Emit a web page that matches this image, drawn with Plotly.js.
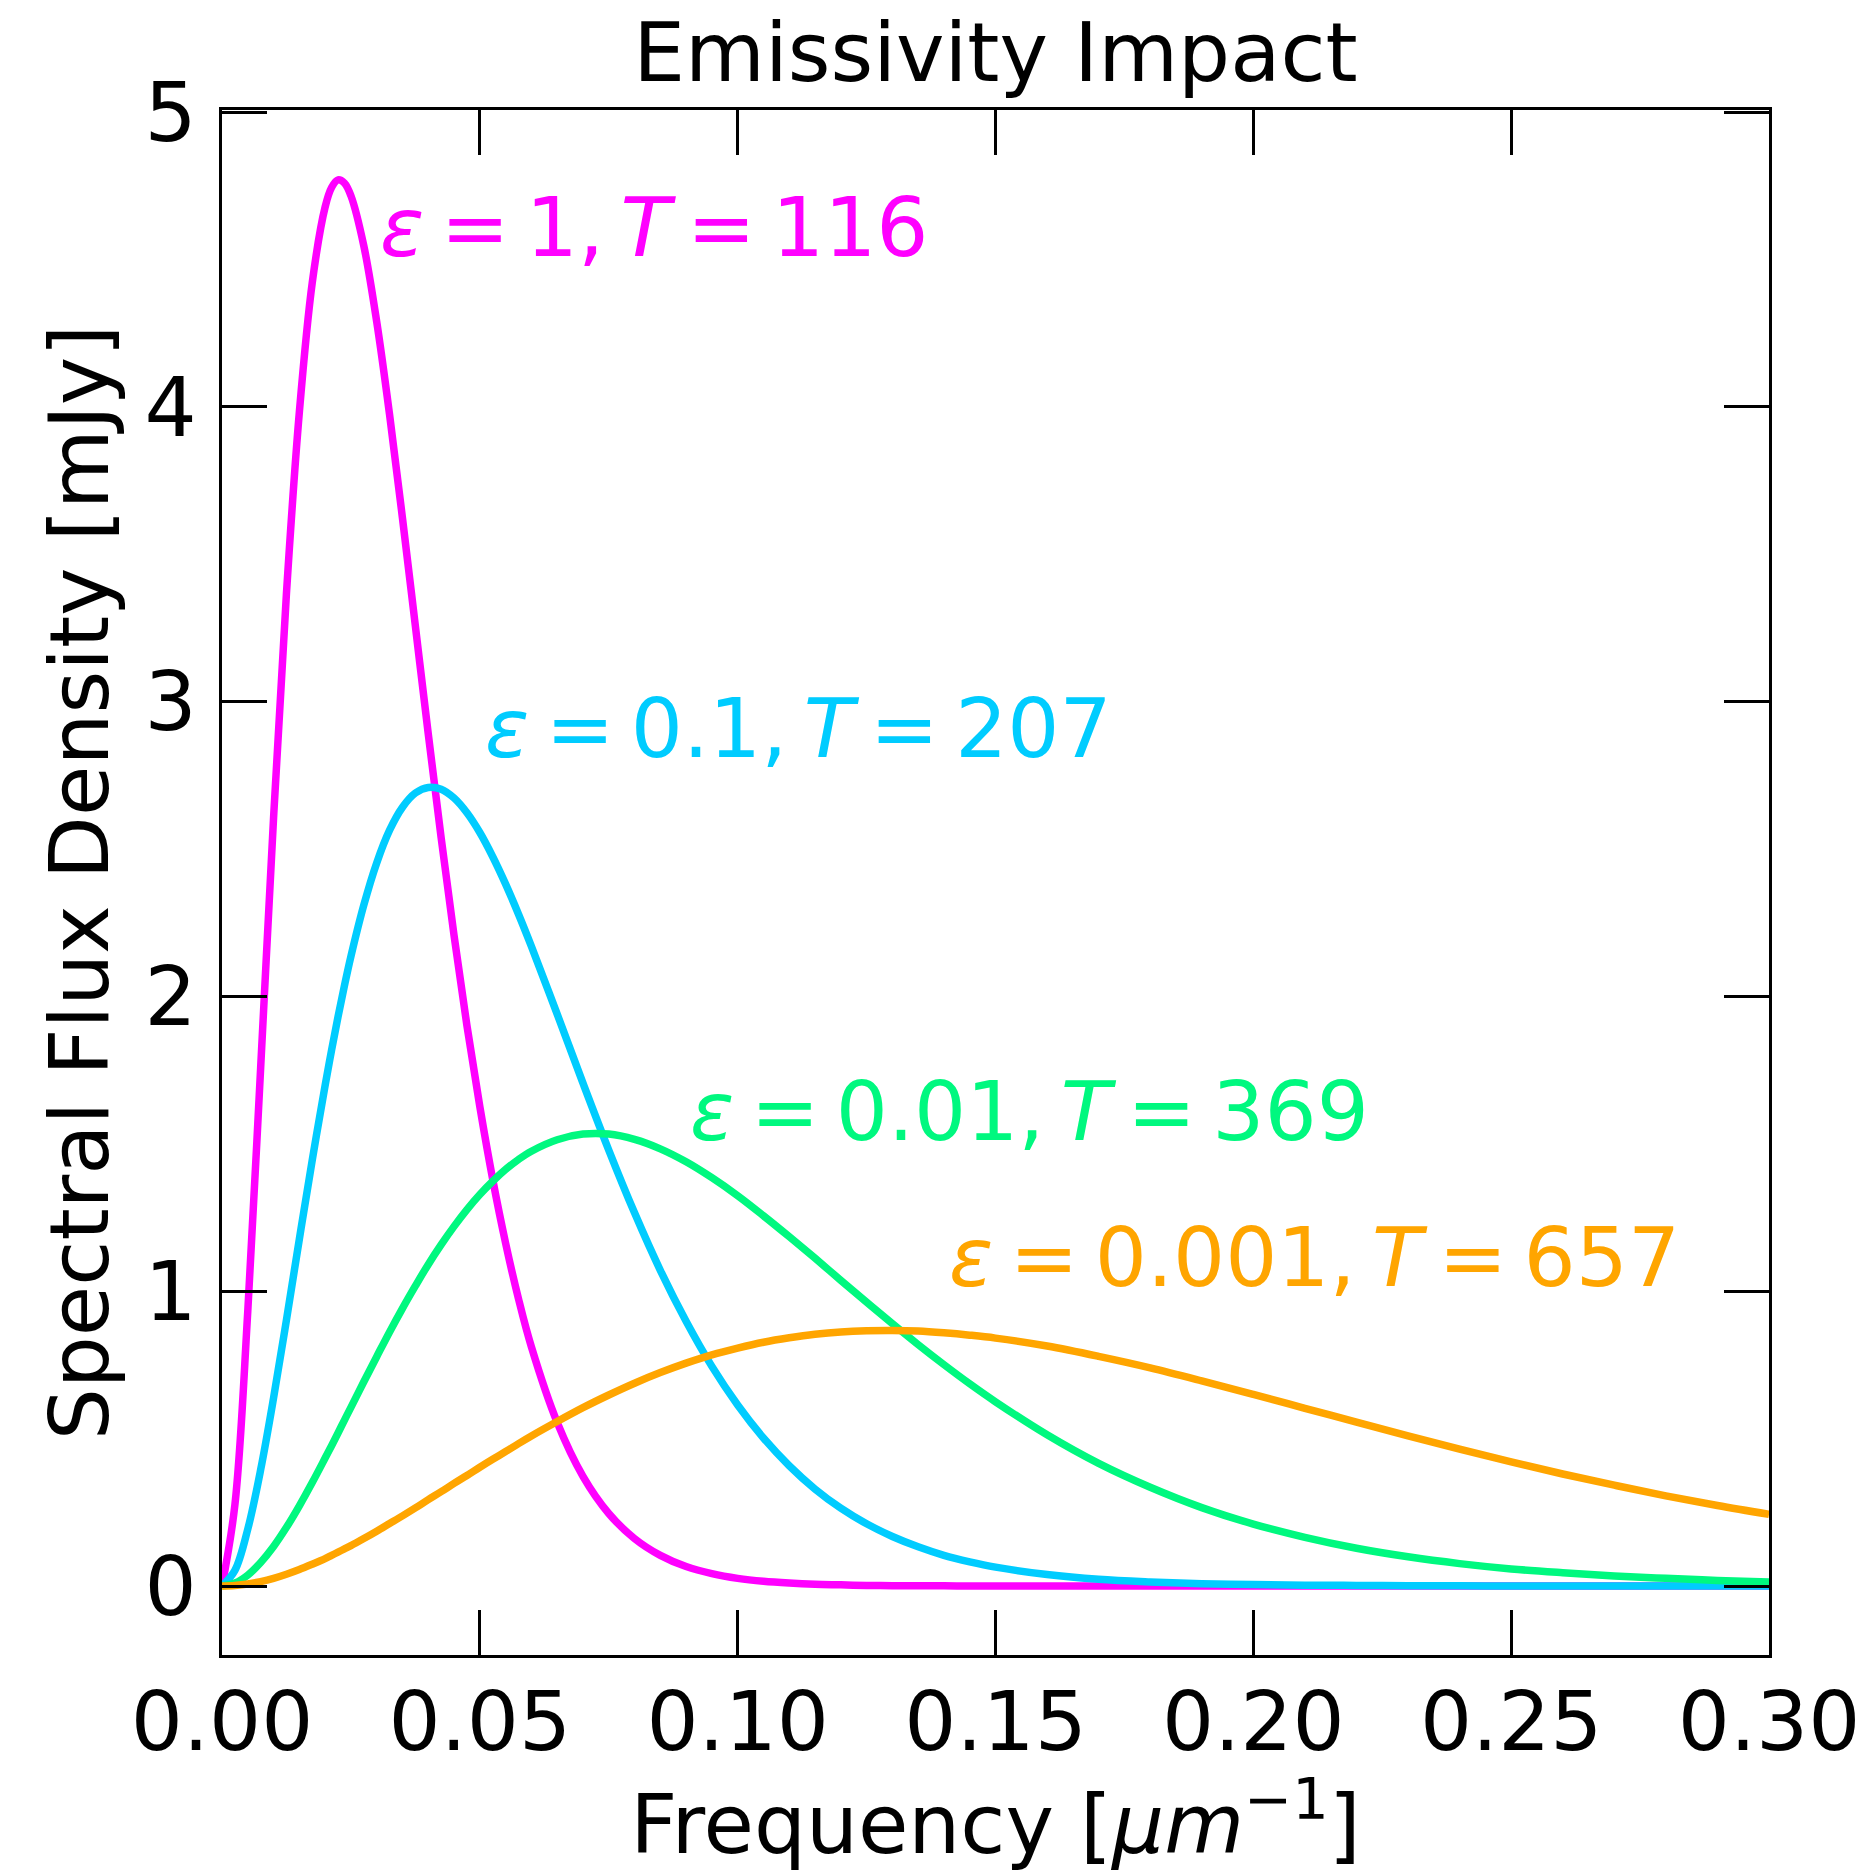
<!DOCTYPE html>
<html>
<head>
<meta charset="utf-8">
<script src="https://cdn.plot.ly/plotly-3.0.1.min.js"></script>
<style>
  html, body { margin: 0; padding: 0; background: #ffffff; }
  #chart { width: 1874px; height: 1872px; }
</style>
</head>
<body>
<div id="chart"></div>
<script>
// Frequency grid [µm^-1]
const frequency = [0, 0.0025, 0.005, 0.0075, 0.01, 0.0125, 0.015, 0.0175, 0.02,
  0.02125, 0.0225, 0.02375,
  0.025, 0.0275, 0.03, 0.0325, 0.035, 0.0375, 0.04, 0.0425, 0.045, 0.0475,
  0.05, 0.0525, 0.055, 0.0575, 0.06,
  0.065, 0.07, 0.075, 0.08, 0.085, 0.09, 0.095, 0.1,
  0.105, 0.11, 0.115, 0.12, 0.125, 0.13, 0.135, 0.14, 0.145, 0.15,
  0.16, 0.17, 0.18, 0.19, 0.2, 0.21, 0.22, 0.23, 0.24, 0.25, 0.26, 0.27, 0.28, 0.29, 0.3];

// Spectral flux density [mJy]
const fluxEps1 = [0, 0.275, 0.932, 1.760, 2.606, 3.368, 3.982, 4.421, 4.678,
  4.744, 4.770, 4.759,
  4.716, 4.546, 4.289, 3.973, 3.622, 3.256, 2.890, 2.538, 2.207, 1.901,
  1.626, 1.379, 1.163, 0.974, 0.811,
  0.555, 0.372, 0.246, 0.161, 0.104, 0.066, 0.042, 0.026,
  0.016, 0.010, 0.006, 0.004, 0.002, 0.001, 0.0008, 0.0005, 0.0003, 0.0002,
  0, 0, 0, 0, 0, 0, 0, 0, 0, 0, 0, 0, 0, 0, 0];

const fluxEps01 = [0, 0.053, 0.193, 0.395, 0.638, 0.903, 1.177, 1.445, 1.698,
  1.818, 1.931, 2.037,
  2.136, 2.310, 2.453, 2.564, 2.642, 2.690, 2.709, 2.703, 2.673, 2.623,
  2.556, 2.474, 2.381, 2.279, 2.170,
  1.940, 1.706, 1.479, 1.266, 1.071, 0.898, 0.745, 0.614,
  0.502, 0.408, 0.329, 0.264, 0.211, 0.168, 0.133, 0.104, 0.082, 0.064,
  0.039, 0.023, 0.014, 0.008, 0.005, 0.003, 0.002, 0.001, 0.0005, 0.0003, 0.0002, 0.0001, 0.0001, 0, 0];

const fluxEps001 = [0, 0.010, 0.037, 0.080, 0.134, 0.199, 0.272, 0.351, 0.434,
  0.476, 0.519, 0.563,
  0.606, 0.693, 0.778, 0.862, 0.942, 1.018, 1.091, 1.158, 1.220, 1.277,
  1.328, 1.373, 1.413, 1.447, 1.475,
  1.514, 1.533, 1.533, 1.515, 1.483, 1.439, 1.385, 1.324,
  1.256, 1.185, 1.112, 1.037, 0.963, 0.890, 0.819, 0.751, 0.686, 0.625,
  0.513, 0.416, 0.335, 0.266, 0.210, 0.165, 0.128, 0.099, 0.076, 0.058, 0.045, 0.034, 0.026, 0.019, 0.014];

const fluxEps0001 = [0, 0.002, 0.007, 0.015, 0.026, 0.040, 0.056, 0.074, 0.093,
  0.104, 0.115, 0.126,
  0.137, 0.161, 0.186, 0.212, 0.238, 0.265, 0.293, 0.320, 0.348, 0.375,
  0.403, 0.430, 0.456, 0.483, 0.509,
  0.558, 0.605, 0.648, 0.688, 0.724, 0.756, 0.784, 0.807,
  0.827, 0.842, 0.854, 0.862, 0.866, 0.867, 0.865, 0.859, 0.851, 0.841,
  0.814, 0.779, 0.740, 0.696, 0.650, 0.603, 0.556, 0.509, 0.464, 0.421, 0.380, 0.342, 0.306, 0.273, 0.243];

const seriesLabels = [
  "<i>ε</i>\u2009=\u20091,\u2009<i>T</i>\u2009=\u2009116",
  "<i>ε</i>\u2009=\u20090.1,\u2009<i>T</i>\u2009=\u2009207",
  "<i>ε</i>\u2009=\u20090.01,\u2009<i>T</i>\u2009=\u2009369",
  "<i>ε</i>\u2009=\u20090.001,\u2009<i>T</i>\u2009=\u2009657"
];
const seriesColors = ["#FF00FF", "#00CCFF", "#00F87F", "#FFA500"];
const seriesFlux = [fluxEps1, fluxEps01, fluxEps001, fluxEps0001];
// label anchor positions (data coords)
const labelX = [0.0302, 0.0506, 0.0904, 0.1406];
const labelY = [4.61, 2.91, 1.608, 1.113];

const FONT = "DejaVu Sans, Verdana, sans-serif";

const traces = seriesFlux.map((ys, i) => ({
  x: frequency,
  y: ys,
  type: "scatter",
  mode: "lines",
  line: { color: seriesColors[i], width: 7.5, shape: "spline", smoothing: 1 },
  showlegend: false,
  hoverinfo: "skip"
}));

const annotations = seriesLabels.map((t, i) => ({
  x: labelX[i], y: labelY[i], xref: "x", yref: "y",
  text: t, showarrow: false, xanchor: "left", yanchor: "middle",
  font: { family: FONT, size: 82, color: seriesColors[i] }
}));

const axisCommon = {
  showline: true, linewidth: 3, linecolor: "#000",
  mirror: "ticks", ticks: "inside", ticklen: 45, tickwidth: 3, tickcolor: "#000",
  showgrid: false, zeroline: false,
  tickfont: { family: FONT, size: 82, color: "#000" }
};

const layout = {
  width: 1874, height: 1872,
  paper_bgcolor: "#ffffff", plot_bgcolor: "#ffffff",
  margin: { l: 222, r: 105, t: 110, b: 217, pad: 0 },
  font: { family: FONT, size: 82, color: "#000" },
  title: {
    text: "Emissivity Impact",
    font: { family: FONT, size: 82, color: "#000" },
    xref: "paper", x: 0.5, xanchor: "center",
    yref: "container", y: 0.972, yanchor: "middle"
  },
  xaxis: Object.assign({}, axisCommon, {
    range: [0, 0.3], tickmode: "linear", tick0: 0, dtick: 0.05, tickformat: ".2f",
    ticklabelstandoff: -6,
    title: { text: "Frequency [<i>μm</i><sup>−1</sup>]", font: { family: FONT, size: 82, color: "#000" }, standoff: 24 }
  }),
  yaxis: Object.assign({}, axisCommon, {
    range: [-0.234, 5.007], tickmode: "linear", tick0: 0, dtick: 1,
    ticklabelstandoff: 6,
    title: { text: "Spectral Flux Density [mJy]", font: { family: FONT, size: 82, color: "#000" }, standoff: 9 }
  }),
  annotations: annotations,
  showlegend: false
};

Plotly.newPlot("chart", traces, layout, { staticPlot: true, displayModeBar: false });
</script>
</body>
</html>
